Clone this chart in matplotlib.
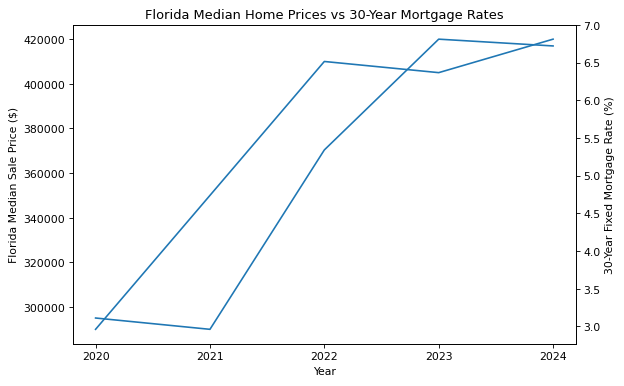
import matplotlib
matplotlib.use("Agg")
from matplotlib import pyplot as plt

years = [2020, 2021, 2022, 2023, 2024]
prices = [290000, 350000, 410000, 405000, 420000]
rates = [3.11, 2.96, 5.34, 6.81, 6.72]

fig, ax1 = plt.subplots(figsize=(8, 4.96), dpi=78)
ax1.plot(years, prices)
ax1.set_xlabel('Year')
ax1.set_ylabel('Florida Median Sale Price ($)')
ax1.set_xticks(years)

ax2 = ax1.twinx()
ax2.plot(years, rates)
ax2.set_ylabel('30-Year Fixed Mortgage Rate (%)')

plt.title('Florida Median Home Prices vs 30-Year Mortgage Rates')
# match the axes box of the reference
fig.subplots_adjust(left=0.1165, right=0.923, top=0.934, bottom=0.109)
fig.savefig('out.png')
